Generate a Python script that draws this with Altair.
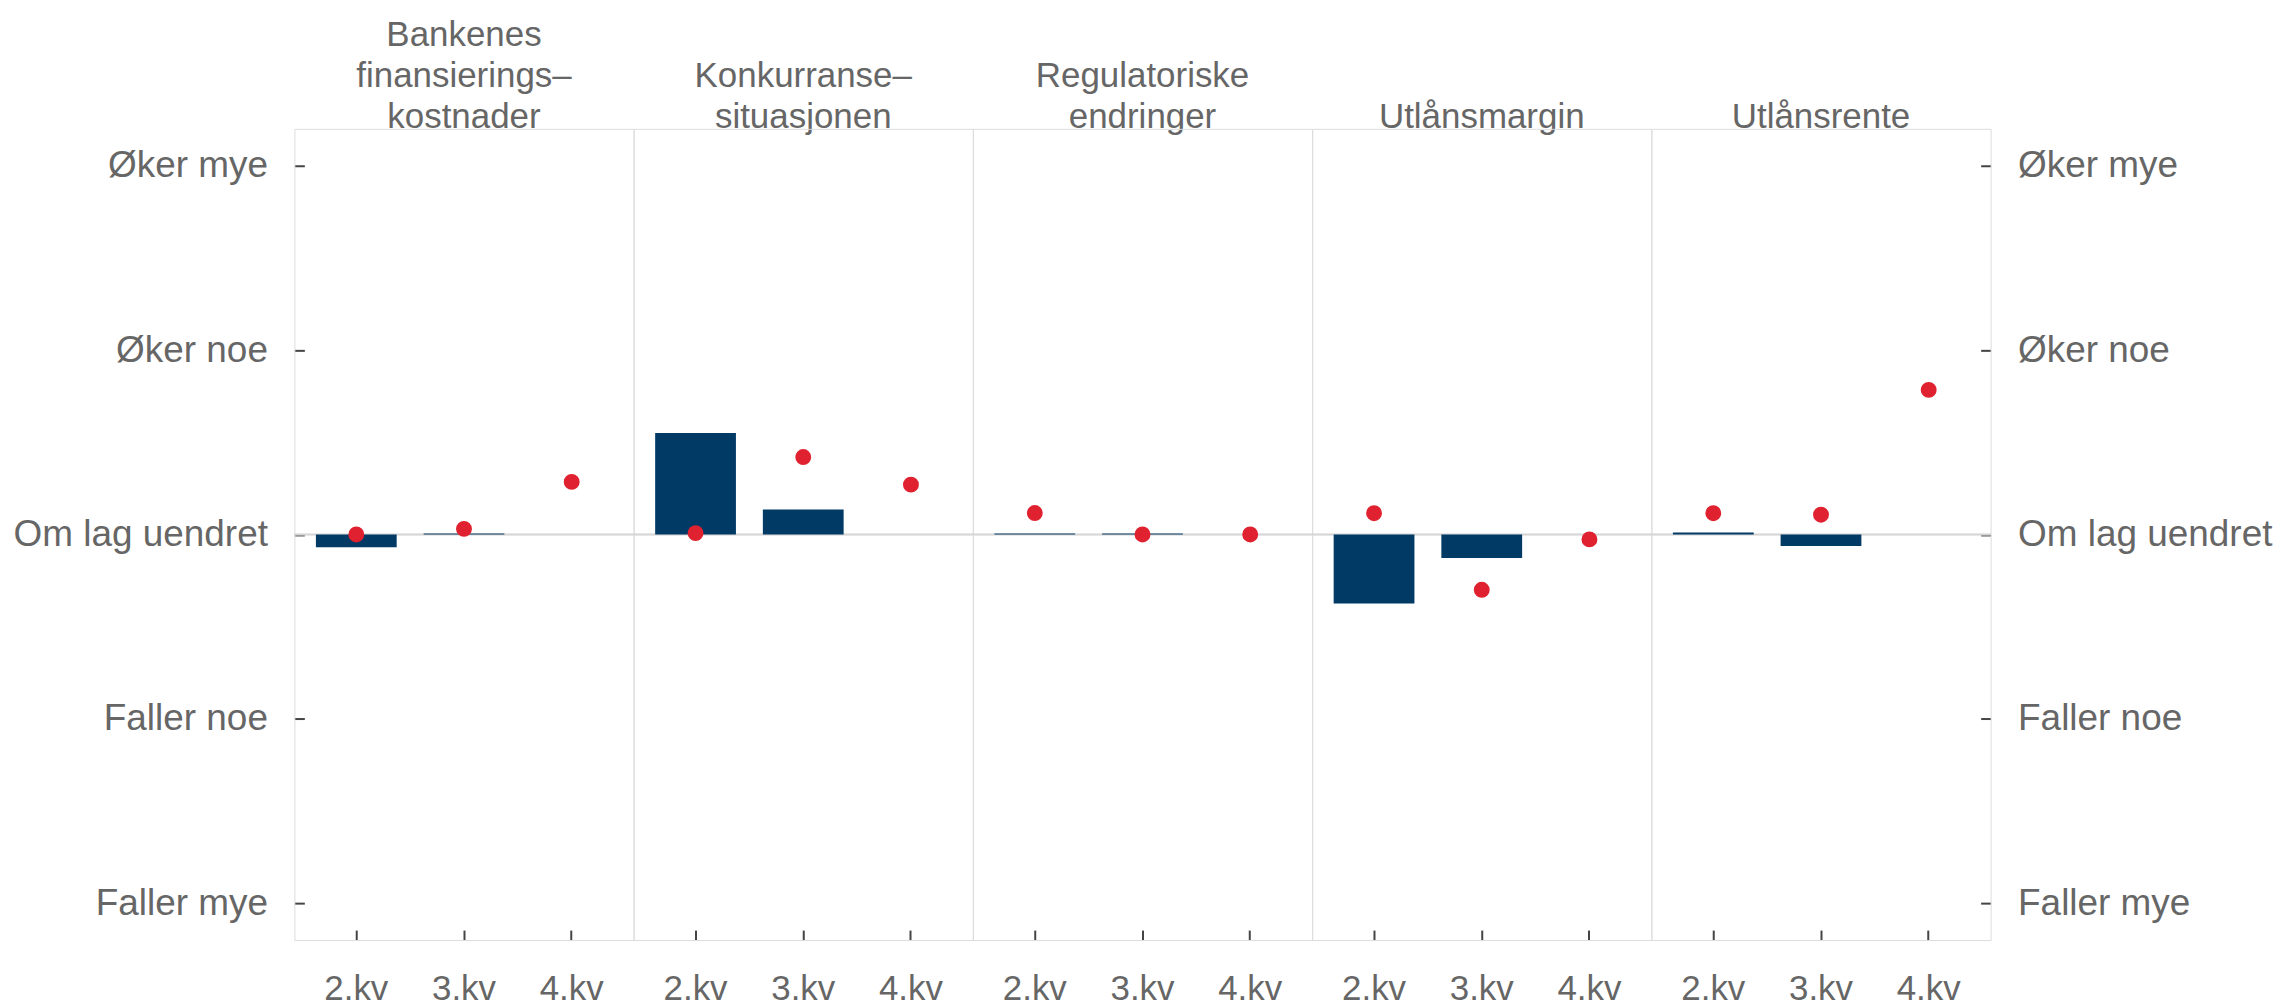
import altair as alt
import pandas as pd

categories = ["Bankenes|finansierings–|kostnader", "Konkurranse–|situasjonen",
              "Regulatoriske|endringer", "Utlånsmargin", "Utlånsrente"]
quarters = ["2.kv", "3.kv", "4.kv"]
bar_values = [
    [-0.07, 0.005, None],
    [0.55, 0.135, None],
    [0.005, 0.005, None],
    [-0.375, -0.128, None],
    [0.01, -0.063, None],
]
point_values = [
    [0.0, 0.03, 0.285],
    [0.007, 0.42, 0.27],
    [0.116, 0.0, 0.0],
    [0.115, -0.30, -0.027],
    [0.115, 0.107, 0.784],
]
y_ticks = [-2, -1, 0, 1, 2]
y_labels = ["Faller mye", "Faller noe", "Om lag uendret", "Øker noe", "Øker mye"]

rows = []
for ci, cat in enumerate(categories):
    for qi, q in enumerate(quarters):
        rows.append({"cat": cat, "kv": q, "bar": bar_values[ci][qi], "point": point_values[ci][qi]})
df = pd.DataFrame(rows)

NAVY = "#023a66"
RED = "#e0212f"
GRAY_TXT = "#666666"
FONT = "Liberation Sans"

label_expr = "[" + ",".join("'" + s + "'" for s in y_labels) + "][datum.value + 2]"
yscale = alt.Scale(domain=[-2.2, 2.2], nice=False, zero=False)

def y_axis(orient):
    return alt.Axis(orient=orient, values=y_ticks, labelExpr=label_expr, grid=False,
                    domain=False, ticks=True, tickSize=10, tickWidth=2, tickColor="#444444",
                    offset=-10, labelPadding=27, labelFontSize=37, labelColor=GRAY_TXT,
                    labelFont=FONT, labelLimit=500, title=None)

xenc = alt.X("kv:N", sort=quarters, title=None,
             scale=alt.Scale(paddingInner=0.25, paddingOuter=0.2),
             axis=alt.Axis(orient="bottom", domain=False, ticks=True, tickSize=10,
                           tickColor="#444444", tickWidth=2, offset=-10, labelPadding=32,
                           labelFontSize=35, labelColor=GRAY_TXT, labelFont=FONT,
                           labelAngle=0, grid=False))

base = alt.Chart(df)
rule = base.mark_rule(color="#d6d6d6", strokeWidth=1.5).encode(
    y=alt.datum(0, scale=yscale, axis=None))
bars = base.mark_bar(color=NAVY).encode(
    x=xenc,
    y=alt.Y("bar:Q", scale=yscale, axis=y_axis("left")),
)
points = base.mark_circle(color=RED, size=254, opacity=1).encode(
    x=xenc,
    y=alt.Y("point:Q", scale=yscale, axis=y_axis("right")),
)

layer = alt.layer(rule, bars, points).resolve_axis(y="independent").properties(width=340, height=813)

chart = layer.facet(
    column=alt.Column("cat:N", sort=categories, title=None,
                      header=alt.Header(labelOrient="top", labelExpr="split(datum.value, '|')",
                                        labelFontSize=35, labelLineHeight=41, labelColor=GRAY_TXT,
                                        labelFont=FONT, labelBaseline="bottom", labelPadding=-41,
                                        labelLimit=500)),
    spacing=0,
    bounds="flush",
).configure_view(stroke="#d6d6d6", strokeWidth=1.3).configure(
    font=FONT, background="white"
).properties(padding={"left": 4, "top": 9, "right": 0, "bottom": 0})

chart.save("out.html", embed_options={"renderer": "svg", "actions": False})
